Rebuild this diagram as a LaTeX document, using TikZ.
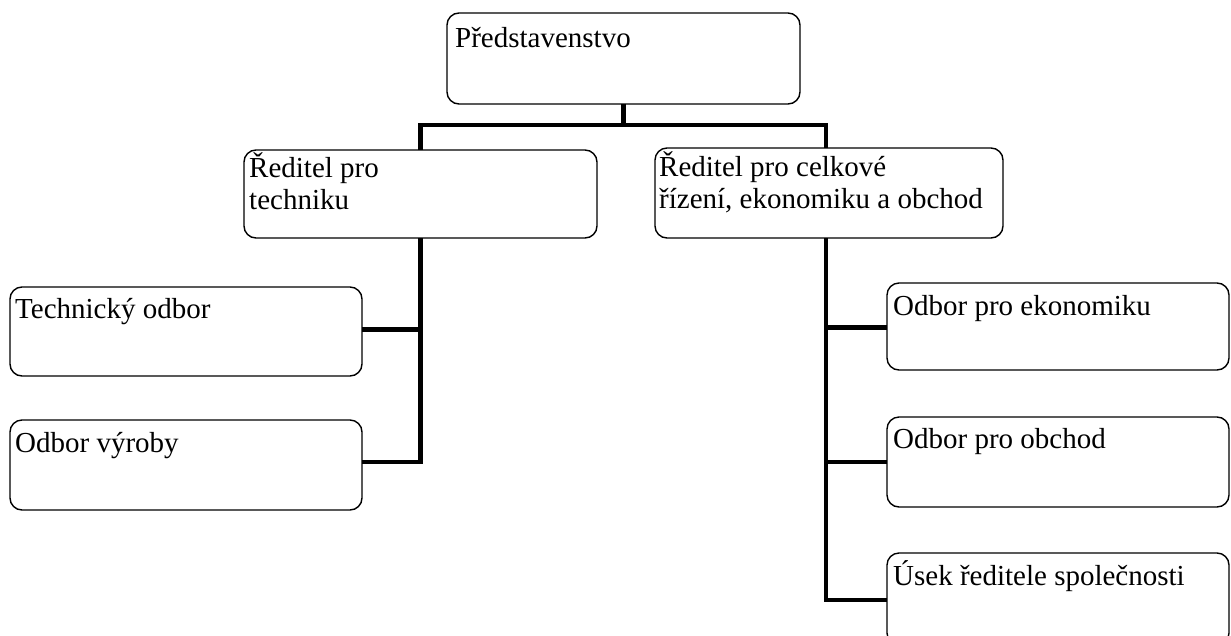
\documentclass[tikz,border=0pt]{standalone}
\usepackage{fontspec}
\setmainfont{Liberation Serif}
\begin{document}
\begin{tikzpicture}[x=1pt,y=-1pt,
  box/.style={draw=black, line width=1.4pt, rounded corners=12pt, inner sep=0pt, outer sep=0pt, anchor=north west},
  lbl/.style={anchor=base west, inner sep=0pt, font=\fontsize{29}{32}\selectfont, align=left},
  conn/.style={draw=black, line width=4.5pt}]
\clip (0,0) rectangle (1231,635);
\fill[white] (0,0) rectangle (1231,635);
% boxes
\node[box, minimum width=353pt, minimum height=91pt] (top) at (447,13) {};
\node[box, minimum width=353pt, minimum height=88pt] (tech) at (244,150) {};
\node[box, minimum width=348pt, minimum height=90pt] (gen) at (655,148) {};
\node[box, minimum width=352pt, minimum height=89pt] (to) at (10,287) {};
\node[box, minimum width=352pt, minimum height=90pt] (ov) at (10,420) {};
\node[box, minimum width=342pt, minimum height=87pt] (oe) at (887,283) {};
\node[box, minimum width=342pt, minimum height=90pt] (oo) at (887,417) {};
\node[box, minimum width=342pt, minimum height=92pt] (us) at (887,553) {};
% texts (base anchor = baseline of last line)
\node[lbl] (topT) at (455,47) {Představenstvo};
\node[lbl] (techT) at (249,209) {Ředitel pro\\techniku};
\node[lbl] (genT) at (659,208) {Ředitel pro celkové\\řízení, ekonomiku a obchod};
\node[lbl] (toT) at (15,318) {Technický odbor};
\node[lbl] (ovT) at (15,452) {Odbor výroby};
\node[lbl] (oeT) at (893,315) {Odbor pro ekonomiku};
\node[lbl] (ooT) at (893,448) {Odbor pro obchod};
\node[lbl] (usT) at (893,585) {Úsek ředitele společnosti};
% connectors
\coordinate (bus) at ([yshift=-21pt]top.south);
\draw[conn] (top.south) -- (bus);
\draw[conn] (bus) -| (tech.north);
\draw[conn] (bus) -| ([xshift=-3pt]gen.north);
\coordinate (tl) at (tech.south);
\draw[conn] (tl) |- ([yshift=2pt]to.east);
\draw[conn] (tl) |- ([yshift=3pt]ov.east);
\coordinate (gl) at ([xshift=-3pt]gen.south);
\draw[conn] (gl) |- ([yshift=-1pt]oe.west);
\draw[conn] (gl) |- (oo.west);
\draw[conn] (gl) |- ([yshift=-1pt]us.west);
\end{tikzpicture}
\end{document}
